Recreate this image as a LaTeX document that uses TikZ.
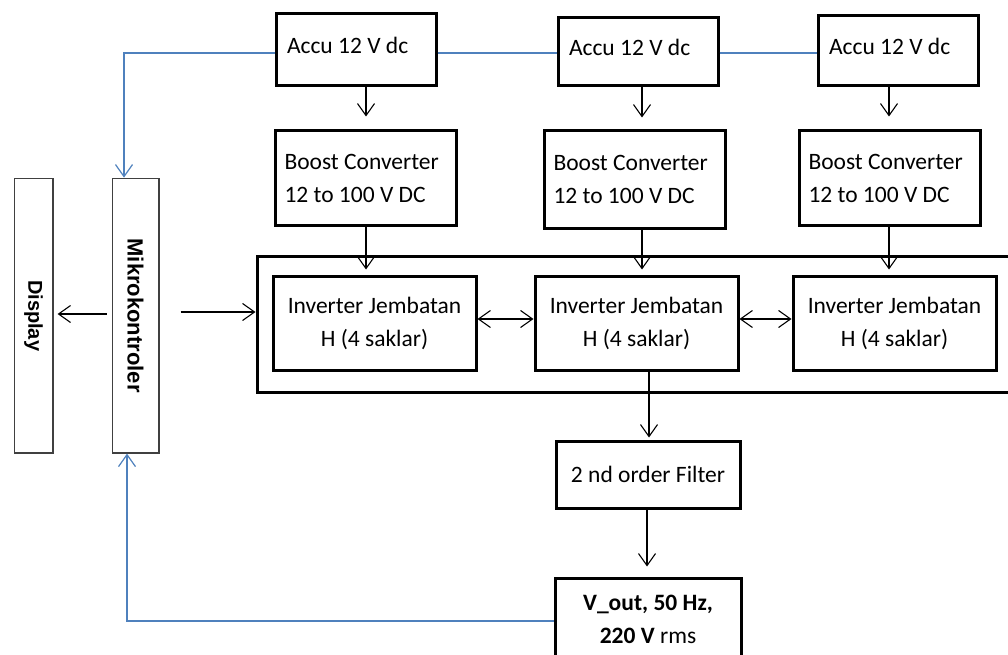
\documentclass[tikz,border=0pt]{standalone}
\usepackage{fontspec}
\usepackage{graphicx}
\setmainfont{Carlito}
\newfontfamily\arialfont{Liberation Sans}
\usetikzlibrary{arrows.meta}
\definecolor{lineblue}{HTML}{4F81BD}
\definecolor{thingray}{HTML}{404040}
\begin{document}
\begin{tikzpicture}[x=1pt,y=-1pt,
  every node/.style={font=\fontsize{23.5}{33}\selectfont, text=black},
  box/.style={draw, line width=3pt, anchor=north west, inner sep=0pt},
  thinbox/.style={draw=thingray, line width=1.3pt, anchor=north west, inner sep=0pt},
  arr/.style={line width=1.1pt, -{Straight Barb[length=12pt,width=17pt]}},
  darr/.style={line width=1.1pt, {Straight Barb[length=12pt,width=17pt]}-{Straight Barb[length=12pt,width=17pt]}},
  barr/.style={draw=lineblue, line width=1.2pt, -{Straight Barb[length=12pt,width=17pt]}},
  bline/.style={draw=lineblue, line width=1.2pt},
  accu/.style={box, minimum width=160pt, minimum height=70pt, text width=138pt, align=flush left, text depth=9pt},
  boost/.style={box, minimum width=181pt, minimum height=95pt, text width=162pt, align=flush left},
  inv/.style={box, minimum width=203pt, minimum height=94pt, align=center}
]
\useasboundingbox (0,0) rectangle (1008,655);

% accumulators
\node[accu, minimum height=72pt] (a1) at (274.5,12.5) {Accu 12 V dc};
\node[accu, minimum height=68pt] (a2) at (556.5,16.5) {Accu 12 V dc};
\node[accu] (a3) at (816.5,14.5) {Accu 12 V dc};

% boost converters
\node[boost, minimum height=94pt] (b1) at (273.5,129.5) {Boost Converter\\12 to 100 V DC};
\node[boost, minimum height=97pt] (b2) at (542.5,129.5) {Boost Converter\\12 to 100 V DC};
\node[boost, minimum height=94pt] (b3) at (797.5,129.5) {Boost Converter\\12 to 100 V DC};

% outer frame and inverters
\node[box, minimum width=770pt, minimum height=136pt] (outer) at (255.5,254.5) {};
\node[inv] (i1) at (271.5,274.5) {Inverter Jembatan\\H (4 saklar)};
\node[inv] (i2) at (533.5,274.5) {Inverter Jembatan\\H (4 saklar)};
\node[inv] (i3) at (791.5,274.5) {Inverter Jembatan\\H (4 saklar)};

% filter and output
\node[box, minimum width=184pt, minimum height=67pt] (f) at (554.5,439.5) {2 nd order Filter};
\node[box, minimum width=186pt, minimum height=82pt, align=center] (v) at (553.5,576.5)
  {\textbf{V\_out, 50 Hz,}\\\textbf{220 V} rms};

% display and microcontroller
\node[thinbox, minimum width=38.7pt, minimum height=274.7pt] (d) at (13.6,177.6)
  {\rotatebox{-90}{\arialfont\bfseries\fontsize{20}{24}\selectfont Display}};
\node[thinbox, minimum width=46.7pt, minimum height=274.7pt] (m) at (111.6,177.6)
  {\rotatebox{-90}{\arialfont\bfseries\fontsize{22}{26}\selectfont Mikrokontroler}};

% helper coordinates
\coordinate (c1) at (366,0);
\coordinate (c2) at (642,0);
\coordinate (c3) at (889,0);
\coordinate (cf) at (649,0);
\coordinate (cv) at (647,0);
\coordinate (ym) at (0,319);
\coordinate (yd) at (0,314);
\coordinate (yo) at (0,312);
\coordinate (yb) at (0,53);
\coordinate (yv) at (0,621);
\coordinate (xb1) at (124,0);
\coordinate (xb2) at (127,0);

% black connectors
\draw[arr, shorten >=13pt] (a1.south -| c1) -- (b1.north -| c1);
\draw[arr, shorten >=12pt] (a2.south -| c2) -- (b2.north -| c2);
\draw[arr, shorten >=13pt] (a3.south -| c3) -- (b3.north -| c3);
\draw[arr, shorten >=5pt] (b1.south -| c1) -- (i1.north -| c1);
\draw[arr, shorten >=5pt] (b2.south -| c2) -- (i2.north -| c2);
\draw[arr, shorten >=5pt] (b3.south -| c3) -- (i3.north -| c3);
\draw[darr] (i1.east |- ym) -- (i2.west |- ym);
\draw[darr] (i2.east |- ym) -- (i3.west |- ym);
\draw[arr, shorten >=2pt] (i2.south -| cf) -- (f.north -| cf);
\draw[arr, shorten >=10pt] (f.south -| cv) -- (v.north -| cv);
\draw[arr, shorten <=5pt, shorten >=4pt] (m.west |- yd) -- (d.east |- yd);
\draw[arr, shorten <=21pt] (m.east |- yo) -- (outer.west |- yo);

% blue connectors
\draw[barr] (a1.west |- yb) -| (m.north -| xb1);
\draw[bline] (a1.east |- yb) -- (a2.west |- yb);
\draw[bline] (a2.east |- yb) -- (a3.west |- yb);
\draw[barr] (v.west |- yv) -| (m.south -| xb2);
\end{tikzpicture}
\end{document}
